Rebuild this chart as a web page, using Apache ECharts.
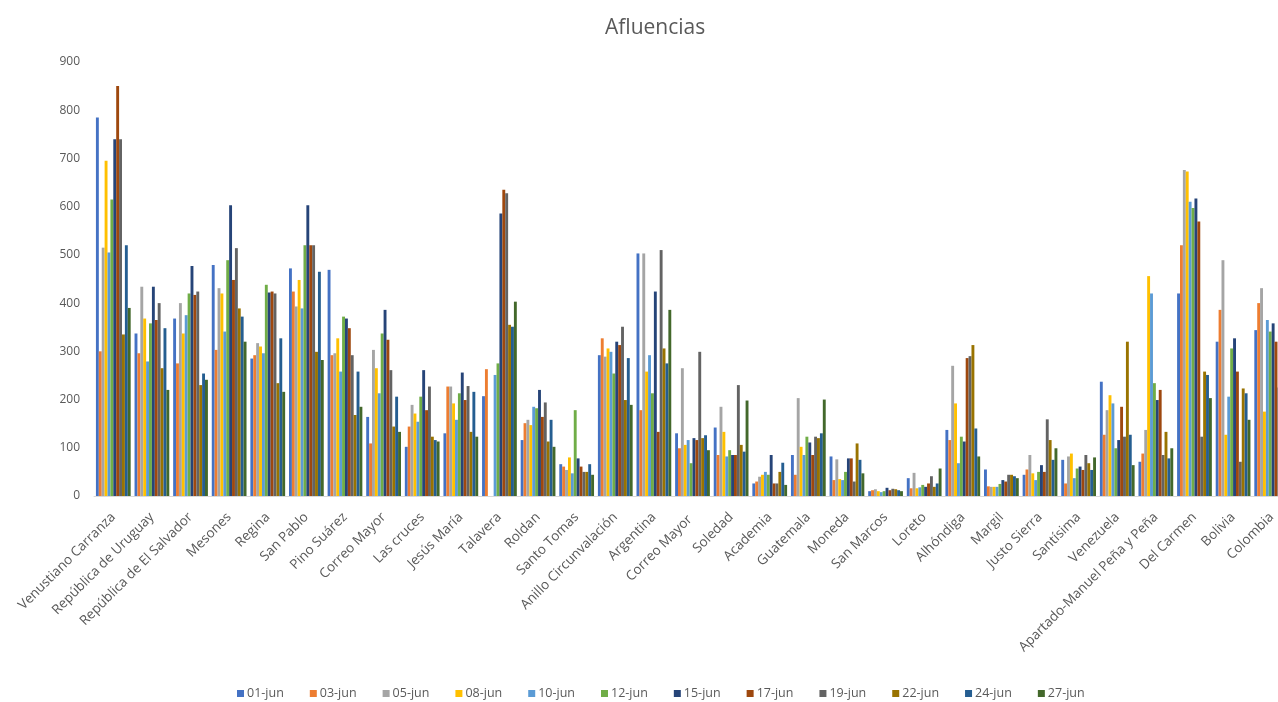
<!DOCTYPE html>
<html>
<head>
<meta charset="utf-8">
<script src="https://cdn.jsdelivr.net/npm/echarts@6/dist/echarts.min.js"></script>
<style>
html,body{margin:0;padding:0;background:#fff;overflow:hidden;width:1278px;height:702px;}
#chart{width:1300px;height:702px;}
</style>
</head>
<body>
<div id="chart"></div>
<script>
const categories = ["Venustiano Carranza","República de Uruguay","República de El Salvador","Mesones","Regina","San Pablo","Pino Suárez","Correo Mayor","Las cruces","Jesús María","Talavera","Roldan","Santo Tomas","Anillo Circunvalación","Argentina","Correo Mayor ","Soledad","Academia","Guatemala","Moneda","San Marcos","Loreto","Alhóndiga","Margil","Justo Sierra","Santísima","Venezuela","Apartado-Manuel Peña y Peña","Del Carmen","Bolivia","Colombia"];
const seriesNames = ["01-jun","03-jun","05-jun","08-jun","10-jun","12-jun","15-jun","17-jun","19-jun","22-jun","24-jun","27-jun"];
const yTicks = [0,100,200,300,400,500,600,700,800,900];

const jun01 = [785,337,368,479,285,472,469,164,102,130,207,116,66,292,503,130,142,26,85,82,10,37,137,55,44,75,237,71,420,320,344];
const jun03 = [300,296,275,303,292,424,292,109,144,227,263,151,61,327,178,99,85,30,44,33,12,16,116,20,55,26,127,88,520,386,400];
const jun05 = [515,434,400,431,317,393,296,303,189,227,0,158,54,289,503,265,185,40,203,76,14,48,270,19,85,82,178,137,676,489,431];
const jun08 = [695,368,337,420,310,448,327,265,171,192,0,147,80,306,258,106,133,44,102,35,10,16,192,19,47,88,209,456,673,127,175];
const jun10 = [505,279,375,341,296,389,258,213,154,158,251,185,47,299,292,116,82,50,85,33,8,18,68,19,33,37,192,420,610,206,365];
const jun12 = [615,358,420,489,438,520,372,337,206,213,275,182,178,254,213,68,95,44,123,50,10,23,123,25,50,57,99,234,597,306,341];
const jun15 = [740,434,477,603,422,603,368,386,261,256,586,220,78,320,424,120,85,85,111,78,17,19,113,33,64,61,116,199,617,327,358];
const jun17 = [850,365,417,448,424,520,348,324,178,199,635,164,61,313,133,116,85,26,85,78,12,26,286,30,50,54,185,220,569,258,320];
const jun19 = [740,400,424,514,420,520,292,261,227,228,628,194,50,351,510,299,230,26,123,30,15,41,290,44,159,85,123,85,123,71,225];
const jun22 = [335,265,230,389,234,299,168,144,123,133,355,113,50,199,306,120,106,50,120,109,14,19,313,44,116,68,320,133,258,223,180];
const jun24 = [520,348,254,372,327,465,258,206,116,216,351,158,66,286,275,126,92,69,130,75,12,26,140,41,75,54,127,78,251,213,200];
const jun27 = [390,220,241,320,216,282,185,133,113,123,403,102,44,189,386,95,198,23,200,47,10,57,82,37,99,80,64,99,203,158,170];

const seriesData = [jun01,jun03,jun05,jun08,jun10,jun12,jun15,jun17,jun19,jun22,jun24,jun27];
const colors = ["#4472C4","#ED7D31","#A5A5A5","#FFC000","#5B9BD5","#70AD47","#264478","#9E480E","#636363","#997300","#255E91","#43682B"];

const txt = "#595959";
const font = "Open Sans";

const chart = echarts.init(document.getElementById('chart'));
chart.setOption({
  animation: false,
  color: colors,
  title: {
    text: "Afluencias",
    left: 600,
    top: 13,
    textStyle: {fontFamily: font, fontSize: 21, fontWeight: 'normal', color: txt}
  },
  legend: {
    data: seriesNames,
    top: 682,
    left: 232,
    icon: 'rect',
    itemWidth: 7,
    itemHeight: 7,
    itemGap: 26,
    textStyle: {fontFamily: font, fontSize: 12.5, color: txt, padding: [0,0,0,-2]}
  },
  grid: {left: 94, right: 9, top: 62, bottom: 206, containLabel: false},
  xAxis: {
    type: 'category',
    data: categories,
    axisTick: {show: false},
    axisLine: {show: true, lineStyle: {color: '#D9D9D9'}},
    axisLabel: {rotate: 45, interval: 0, fontFamily: font, fontSize: 13.5, color: txt, margin: 19}
  },
  yAxis: {
    type: 'value',
    min: 0,
    max: 900,
    interval: 100,
    splitLine: {show: false},
    axisLine: {show: false},
    axisTick: {show: false},
    axisLabel: {fontFamily: font, fontSize: 12, color: txt, margin: 14,
      formatter: v => yTicks.includes(v) ? String(v) : ''}
  },
  series: seriesNames.map((n, i) => ({
    name: n,
    type: 'bar',
    data: seriesData[i],
    barGap: '0%',
    barCategoryGap: '10%'
  }))
});
</script>
</body>
</html>
